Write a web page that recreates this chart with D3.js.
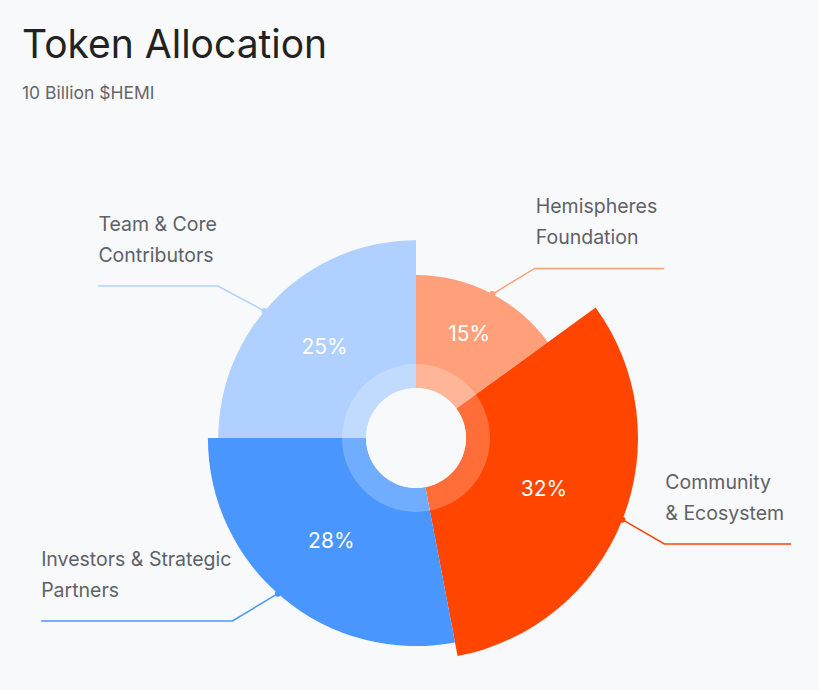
<!DOCTYPE html>
<html><head><meta charset="utf-8">
<script src="https://cdn.jsdelivr.net/npm/d3@7"></script>
<style>
html,body{margin:0;padding:0;background:#f8f9fb;}
svg{display:block;font-family:Inter,"Open Sans",sans-serif;}
</style></head>
<body><svg id="c" width="819" height="690"></svg>
<script>
const categories = ["Hemispheres Foundation","Community & Ecosystem","Investors & Strategic Partners","Team & Core Contributors"];
const labelLines = [["Hemispheres","Foundation"],["Community","& Ecosystem"],["Investors & Strategic","Partners"],["Team & Core","Contributors"]];
const values = [15, 32, 28, 25];
const colors = ["#ffa07a","#ff4500","#4a96ff","#b0d0ff"];
const title = "Token Allocation";
const subtitle = "10 Billion $HEMI";

// leader layout (angle shifts in degrees from slice mid-angle, elbow distance beyond arc)
const dotShift = [1, 0, 2, -5];
const elbowShift = [8, 1.5, 5.5, -7.5];
const elbowLen = [44, 48, 51, 52];

const W = 819, H = 690, cx = 416, cy = 438;
const svg = d3.select("#c");
svg.append("rect").attr("width",W).attr("height",H).attr("fill","#f8f9fb");
svg.append("text").attr("x",22).attr("y",58).attr("font-size",39).attr("fill","#222").text(title);
svg.append("text").attr("x",22).attr("y",99).attr("font-size",17.5).attr("fill","#666").text(subtitle);

const rScale = d3.scaleLinear().domain([15,32]).range([163,222]);
const innerR = 50, ringR = 74;
const pie = d3.pie().sort(null).value(d=>d)(values);
const g = svg.append("g").attr("transform",`translate(${cx},${cy})`);
g.selectAll("path.seg").data(pie).join("path").attr("class","seg")
  .attr("d", d=>d3.arc().innerRadius(innerR).outerRadius(rScale(d.data))(d))
  .attr("fill",(d,i)=>colors[i]);
g.append("path").attr("d", d3.arc().innerRadius(innerR).outerRadius(ringR).startAngle(0).endAngle(2*Math.PI)())
  .attr("fill","#fff").attr("fill-opacity",0.22);
g.append("circle").attr("r",innerR).attr("fill","#f8f9fb");

// percentage labels
g.selectAll("text.pct").data(pie).join("text").attr("class","pct")
  .attr("transform", d=>{const a=(d.startAngle+d.endAngle)/2, r=60+0.35*rScale(d.data);
     return `translate(${Math.sin(a)*r},${-Math.cos(a)*r})`;})
  .attr("text-anchor","middle").attr("dy","0.36em").attr("font-size",21).attr("fill","#fff")
  .text(d=>d.data+"%");

const rad = Math.PI/180;
pie.forEach((d,i)=>{
  const mid=(d.startAngle+d.endAngle)/2, r=rScale(d.data);
  const a0 = mid + dotShift[i]*rad, a1 = mid + elbowShift[i]*rad;
  const p0=[Math.sin(a0)*r, -Math.cos(a0)*r];
  const p1=[Math.sin(a1)*(r+elbowLen[i]), -Math.cos(a1)*(r+elbowLen[i])];
  const right = Math.sin(mid)>0;
  const t = g.append("text").attr("font-size",19.5).attr("fill","#5f6166").attr("text-anchor","start");
  labelLines[i].forEach((s,j)=>t.append("tspan").attr("x",0).attr("dy", j===0?0:31).text(s));
  let w=0; t.selectAll("tspan").each(function(){w=Math.max(w,this.getComputedTextLength());});
  const len = right ? w + 8 : w + 1;
  const p2=[p1[0]+(right?len:-len), p1[1]];
  const tx = right ? p1[0]+1 : p2[0];
  t.attr("transform",`translate(${tx},${p1[1]-24-31})`);
  g.append("path").attr("d",d3.line()([p0,p1,p2])).attr("fill","none")
   .attr("stroke",colors[i]).attr("stroke-width",1.5);
  g.append("circle").attr("cx",p0[0]).attr("cy",p0[1]).attr("r",3).attr("fill",colors[i]);
});
</script></body></html>
